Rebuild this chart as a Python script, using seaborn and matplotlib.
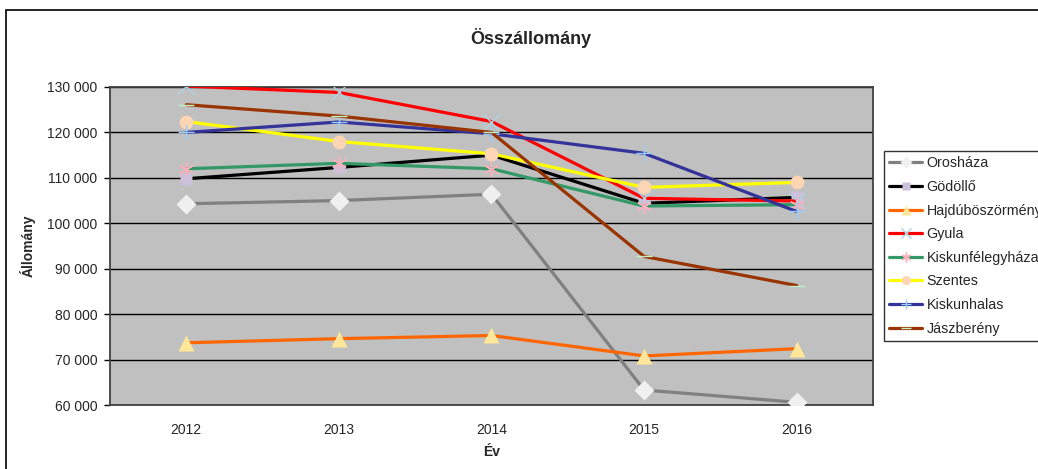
#!/usr/bin/env python3
"""Összállomány line chart -> out.png"""

import matplotlib.pyplot as plt
import matplotlib.ticker as mticker
import numpy as np
import pandas as pd
import seaborn as sns
from matplotlib.patches import Rectangle

years = [2012, 2013, 2014, 2015, 2016]
cities = [
    "Orosháza", "Gödöllő", "Hajdúböszörmény", "Gyula",
    "Kiskunfélegyháza", "Szentes", "Kiskunhalas", "Jászberény",
]
oroshaza = [104300, 105000, 106400, 63300, 60600]
godollo = [109800, 112300, 115000, 104400, 105700]
hajduboszormeny = [73700, 74600, 75300, 70800, 72400]
gyula = [130200, 128800, 122400, 105500, 104900]
kiskunfelegyhaza = [112000, 113200, 112000, 103800, 104100]
szentes = [122400, 118000, 115300, 107900, 109000]
kiskunhalas = [120000, 122300, 119700, 115400, 102600]
jaszbereny = [126100, 123600, 120000, 92700, 86300]
values = [oroshaza, godollo, hajduboszormeny, gyula,
          kiskunfelegyhaza, szentes, kiskunhalas, jaszbereny]

line_colors = ["#808080", "#000000", "#ff6600", "#ff0000",
               "#339966", "#ffff00", "#333399", "#993300"]
marker_colors = ["#f0f0f0", "#ccc0da", "#ffe699", "#a8d4e6",
                 "#ffb0bc", "#fcd5b4", "#99ccff", "#c4f0c8"]
markers = ["D", "s", "^", "x", (6, 2, 0), "o", "+", "_"]
filled = [True, True, True, False, False, True, False, False]

df = pd.DataFrame(
    [(c, y, v) for c, vals in zip(cities, values) for y, v in zip(years, vals)],
    columns=["varos", "ev", "allomany"],
)

sns.set_style("white")
plt.rcParams["font.family"] = ["Liberation Sans", "DejaVu Sans"]

fig = plt.figure(figsize=(10.38, 4.69), dpi=100)
ax = fig.add_axes([110 / 1038, 1 - 405 / 469, 763 / 1038, 318 / 469])
ax.set_facecolor("#c0c0c0")

# outer chart frame (top-left corner visible, rest runs off the image)
fig.patches.append(Rectangle((6 / 1038, -0.2), 1.2, 1.2 - 10 / 469,
                             transform=fig.transFigure, fill=False,
                             edgecolor="black", linewidth=1.2, zorder=0))

for i, (city, lc, mc, mk, fl) in enumerate(zip(cities, line_colors, marker_colors, markers, filled)):
    sub = df[df["varos"] == city]
    kw = dict(markerfacecolor=mc, markeredgecolor=mc if not fl else "none")
    if fl:
        ms = 10 if mk != "s" else 9
        if mk == "^":
            ms = 11
        kw.update(markersize=ms)
    else:
        kw.update(markersize=11, markeredgewidth=1.0)
    sns.lineplot(data=sub, x="ev", y="allomany", color=lc, linewidth=2.3,
                 marker=mk, label=city, ax=ax, zorder=3 + i, **kw)

ax.set_xlim(2011.5, 2016.5)
ax.set_ylim(60000, 130000)
ax.set_yticks(np.arange(60000, 130001, 10000))
ax.yaxis.set_major_formatter(mticker.FuncFormatter(lambda v, p: f"{int(v):,}".replace(",", " ")))
ax.set_xticks(np.arange(2011.5, 2016.6, 1.0))
ax.set_xticklabels([])
ax.set_xticks(years, minor=True)
ax.set_xticklabels([str(y) for y in years], minor=True)
ax.tick_params(axis="x", which="major", direction="out", length=4, width=1, color="black")
ax.tick_params(axis="x", which="minor", length=0, pad=13, labelsize=10)
ax.tick_params(axis="y", direction="out", length=4, width=1, color="black", labelsize=10, pad=5, left=True)
ax.grid(axis="y", color="black", linewidth=1.0)
ax.set_axisbelow(True)
for s in ax.spines.values():
    s.set_color("#404040")
    s.set_linewidth(1.3)

ax.set_xlabel("Év", fontsize=10, fontweight="bold", labelpad=6)
ax.set_ylabel("Állomány", fontsize=10, fontweight="bold", labelpad=8)
fig.text(531 / 1038, 1 - 38 / 469, "Összállomány", ha="center", va="center",
         fontsize=13, fontweight="bold")

leg = ax.legend(loc="upper left", bbox_to_anchor=(884 / 1038, 1 - 151 / 469),
                bbox_transform=fig.transFigure, frameon=True, fancybox=False,
                edgecolor="black", fontsize=10.3, handlelength=2.3, handletextpad=0.3,
                labelspacing=0.67, borderpad=0.38, borderaxespad=0, markerscale=0.65)
leg.get_frame().set_linewidth(1.0)

fig.savefig("out.png", dpi=100)
